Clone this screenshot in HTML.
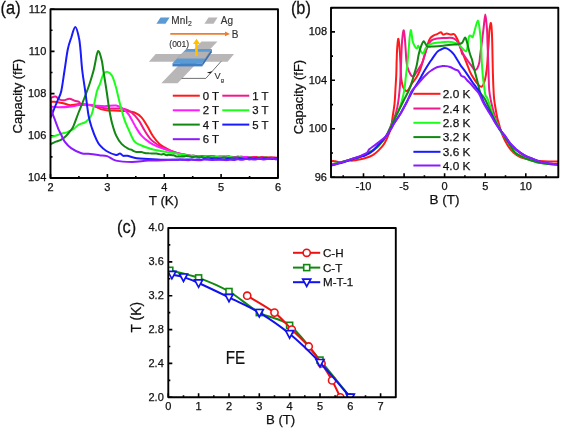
<!DOCTYPE html>
<html><head><meta charset="utf-8"><style>
html,body{margin:0;padding:0;background:#fff;}
svg{display:block;filter:blur(0.35px);}
text{font-family:"Liberation Sans",sans-serif;fill:#111;stroke:#111;stroke-width:0.25px;}
</style></head><body>
<svg width="562" height="428" viewBox="0 0 562 428">
<defs>
<clipPath id="ca"><rect x="50.5" y="9.2" width="227.5" height="168.8"/></clipPath>
<clipPath id="cb"><rect x="331.0" y="7.7" width="227.3" height="169.5"/></clipPath>
<clipPath id="cc"><rect x="168.3" y="228.0" width="227.5" height="169.3"/></clipPath>
</defs>
<rect width="562" height="428" fill="#fff"/>
<path d="M50.5 178.0v-4.0M78.9 178.0v-2.0M107.4 178.0v-4.0M135.8 178.0v-2.0M164.2 178.0v-4.0M192.7 178.0v-2.0M221.1 178.0v-4.0M249.6 178.0v-2.0M278.0 178.0v-4.0M50.5 178.0h4.0M50.5 156.9h2.0M50.5 135.8h4.0M50.5 114.7h2.0M50.5 93.6h4.0M50.5 72.5h2.0M50.5 51.4h4.0M50.5 30.3h2.0M50.5 9.2h4.0" stroke="#000" stroke-width="1.6" fill="none"/>
<g clip-path="url(#ca)">
<path d="M50.7 101.9C51.7 101.9 54.3 101.6 56.5 101.9C58.7 102.2 61.9 103.0 64.0 103.5C66.2 104.0 67.4 104.9 69.4 105.1C71.4 105.3 74.0 104.7 75.8 104.5C77.6 104.3 77.5 103.9 80.0 104.0C82.5 104.1 87.9 104.6 90.7 105.1C93.5 105.6 95.3 106.5 97.1 107.2C98.9 107.9 99.6 108.9 101.4 109.4C103.2 109.9 105.7 110.2 107.8 110.4C109.9 110.6 111.0 110.4 114.0 110.5C117.0 110.6 122.6 110.8 126.0 111.1C129.4 111.4 131.8 111.5 134.4 112.5C137.0 113.5 139.4 115.2 141.5 117.4C143.6 119.6 145.2 122.8 147.1 125.8C149.0 128.8 150.6 132.6 152.7 135.7C154.8 138.8 157.6 142.1 159.7 144.1C161.8 146.1 162.9 146.4 165.0 147.6C167.1 148.8 169.5 150.1 172.0 151.2C174.5 152.3 177.0 153.2 180.0 154.0C183.0 154.8 187.8 155.7 190.0 156.0C192.2 156.3 192.0 156.0 193.0 156.0C194.0 156.0 195.0 156.1 196.0 156.2C197.0 156.3 198.0 156.6 199.0 156.6C200.0 156.6 201.0 156.3 202.0 156.2C203.0 156.2 204.0 156.3 205.0 156.3C206.0 156.4 207.0 156.5 208.0 156.5C209.0 156.5 210.0 156.1 211.0 156.2C212.0 156.2 213.0 156.5 214.0 156.6C215.0 156.7 216.0 156.7 217.0 156.8C218.0 156.9 219.0 157.1 220.0 157.0C221.0 157.0 222.0 156.5 223.0 156.4C224.0 156.4 225.0 156.7 226.0 156.7C227.0 156.7 228.0 156.4 229.0 156.5C230.0 156.6 231.0 157.2 232.0 157.3C233.0 157.4 234.0 157.3 235.0 157.2C236.0 157.1 237.0 156.5 238.0 156.6C239.0 156.7 240.0 157.4 241.0 157.6C242.0 157.8 243.0 157.7 244.0 157.6C245.0 157.6 246.0 157.4 247.0 157.4C248.0 157.4 249.0 157.5 250.0 157.4C251.0 157.4 252.0 157.1 253.0 157.0C254.0 156.9 255.0 156.9 256.0 156.9C257.0 157.0 258.0 157.5 259.0 157.5C260.0 157.5 261.0 157.1 262.0 157.1C263.0 157.1 264.0 157.2 265.0 157.3C266.0 157.3 267.0 157.4 268.0 157.4C269.0 157.4 270.0 157.2 271.0 157.2C272.0 157.3 273.0 157.6 274.0 157.7C275.0 157.8 276.5 157.8 277.0 157.8" fill="none" stroke="#ff1a1a" stroke-width="2.0" stroke-linejoin="round" stroke-linecap="round"/>
<path d="M50.7 98.1C51.5 97.8 54.0 96.2 55.5 96.5C57.0 96.8 58.3 99.1 59.7 99.7C61.1 100.3 62.4 100.5 64.0 100.3C65.6 100.1 67.6 98.6 69.4 98.7C71.2 98.8 73.1 100.3 74.7 100.8C76.3 101.3 78.0 101.4 79.0 101.9C80.0 102.4 79.8 103.5 81.0 104.0C82.2 104.5 84.0 104.3 86.0 104.6C88.0 104.9 90.5 105.4 92.8 105.8C95.1 106.2 98.0 106.8 100.0 107.2C102.0 107.6 102.5 108.0 105.0 108.2C107.5 108.4 111.7 108.5 115.0 108.6C118.3 108.7 121.8 108.3 124.6 109.0C127.4 109.7 129.3 110.6 131.6 112.5C133.9 114.4 136.5 117.3 138.6 120.2C140.7 123.1 142.2 126.7 144.3 130.0C146.4 133.3 148.5 137.1 151.3 139.9C154.1 142.7 158.8 145.4 161.1 146.9C163.4 148.4 162.7 148.1 165.0 149.0C167.3 149.9 170.8 151.4 175.0 152.5C179.2 153.6 187.0 155.2 190.0 155.8C193.0 156.4 192.0 155.9 193.0 155.9C194.0 156.0 195.0 156.2 196.0 156.3C197.0 156.4 198.0 156.5 199.0 156.4C200.0 156.4 201.0 156.1 202.0 156.1C203.0 156.0 204.0 156.0 205.0 156.1C206.0 156.2 207.0 156.5 208.0 156.5C209.0 156.6 210.0 156.4 211.0 156.5C212.0 156.6 213.0 157.0 214.0 157.1C215.0 157.2 216.0 157.1 217.0 157.1C218.0 157.1 219.0 157.1 220.0 157.1C221.0 157.1 222.0 157.0 223.0 157.1C224.0 157.1 225.0 157.3 226.0 157.2C227.0 157.2 228.0 156.8 229.0 156.8C230.0 156.8 231.0 157.1 232.0 157.1C233.0 157.1 234.0 156.8 235.0 156.9C236.0 157.0 237.0 157.7 238.0 157.7C239.0 157.7 240.0 156.9 241.0 156.9C242.0 156.9 243.0 157.7 244.0 157.7C245.0 157.7 246.0 157.0 247.0 157.0C248.0 157.0 249.0 157.6 250.0 157.7C251.0 157.7 252.0 157.4 253.0 157.4C254.0 157.4 255.0 157.4 256.0 157.5C257.0 157.6 258.0 158.1 259.0 158.0C260.0 158.0 261.0 157.4 262.0 157.2C263.0 157.1 264.0 157.2 265.0 157.3C266.0 157.5 267.0 158.2 268.0 158.2C269.0 158.3 270.0 158.0 271.0 157.9C272.0 157.8 273.0 157.5 274.0 157.5C275.0 157.6 276.5 157.9 277.0 158.0" fill="none" stroke="#f0198c" stroke-width="2.0" stroke-linejoin="round" stroke-linecap="round"/>
<path d="M50.7 106.7C52.0 106.8 55.6 107.2 58.7 107.2C61.8 107.2 65.9 107.1 69.4 106.7C73.0 106.3 76.5 105.4 80.0 105.1C83.5 104.8 87.9 105.0 90.7 105.1C93.5 105.2 94.7 105.6 97.1 105.8C99.5 106.0 101.8 106.2 105.0 106.2C108.2 106.2 113.2 105.0 116.2 105.5C119.2 106.0 121.1 107.5 123.2 109.0C125.3 110.5 126.7 111.6 128.8 114.6C130.9 117.6 133.7 123.7 135.8 127.2C137.9 130.7 139.2 133.1 141.5 135.7C143.8 138.3 147.1 140.8 149.9 142.7C152.7 144.6 155.8 145.8 158.3 146.9C160.8 148.0 162.2 148.1 165.0 149.0C167.8 149.9 170.8 151.4 175.0 152.5C179.2 153.6 187.0 155.0 190.0 155.5C193.0 156.0 192.0 155.3 193.0 155.4C194.0 155.5 195.0 155.9 196.0 156.0C197.0 156.1 198.0 156.1 199.0 156.2C200.0 156.2 201.0 156.5 202.0 156.5C203.0 156.5 204.0 156.1 205.0 156.0C206.0 155.9 207.0 156.1 208.0 156.1C209.0 156.1 210.0 156.1 211.0 156.1C212.0 156.1 213.0 156.1 214.0 156.2C215.0 156.4 216.0 156.8 217.0 156.8C218.0 156.8 219.0 156.3 220.0 156.3C221.0 156.3 222.0 156.7 223.0 156.8C224.0 156.8 225.0 156.5 226.0 156.5C227.0 156.5 228.0 156.6 229.0 156.6C230.0 156.7 231.0 156.7 232.0 156.8C233.0 157.0 234.0 157.3 235.0 157.3C236.0 157.4 237.0 157.3 238.0 157.2C239.0 157.0 240.0 156.7 241.0 156.6C242.0 156.6 243.0 156.9 244.0 156.9C245.0 157.0 246.0 156.8 247.0 156.9C248.0 157.0 249.0 157.5 250.0 157.7C251.0 157.8 252.0 157.7 253.0 157.7C254.0 157.7 255.0 157.7 256.0 157.8C257.0 157.8 258.0 157.8 259.0 157.9C260.0 157.9 261.0 157.8 262.0 157.9C263.0 157.9 264.0 158.1 265.0 158.1C266.0 158.2 267.0 158.1 268.0 158.1C269.0 158.0 270.0 157.6 271.0 157.6C272.0 157.6 273.0 158.2 274.0 158.3C275.0 158.3 276.5 158.0 277.0 158.0" fill="none" stroke="#ff1aff" stroke-width="2.0" stroke-linejoin="round" stroke-linecap="round"/>
<path d="M50.6 137.2C51.7 136.9 55.1 135.9 57.0 135.3C58.9 134.7 60.4 133.9 62.1 133.4C63.8 132.9 65.4 132.8 67.3 132.1C69.2 131.3 71.8 130.1 73.7 128.9C75.6 127.7 76.8 125.9 78.8 124.7C80.8 123.5 83.8 123.5 85.9 121.9C88.0 120.3 90.1 118.0 91.5 114.9C92.9 111.9 93.4 107.6 94.3 103.6C95.2 99.6 96.0 94.3 97.0 91.0C98.0 87.7 98.9 86.6 100.0 83.8C101.1 81.0 102.2 76.0 103.5 74.0C104.8 72.0 106.3 71.7 107.7 71.9C109.1 72.1 110.6 73.2 111.9 75.4C113.2 77.6 114.4 81.7 115.4 85.2C116.5 88.7 117.3 92.8 118.2 96.5C119.1 100.2 119.9 103.8 121.0 107.7C122.1 111.7 123.3 116.5 124.6 120.2C125.9 123.9 127.2 126.5 128.8 130.0C130.4 133.5 132.3 138.7 134.4 141.3C136.5 143.9 138.7 144.2 141.5 145.5C144.3 146.8 147.4 147.9 151.3 149.0C155.2 150.1 160.2 150.9 165.0 151.8C169.8 152.7 175.9 153.5 180.1 154.2C184.3 154.9 187.8 155.6 190.0 155.8C192.2 156.0 192.0 155.5 193.0 155.6C194.0 155.7 195.0 156.2 196.0 156.4C197.0 156.6 198.0 156.4 199.0 156.6C200.0 156.7 201.0 157.0 202.0 157.0C203.0 157.0 204.0 156.6 205.0 156.6C206.0 156.5 207.0 156.5 208.0 156.6C209.0 156.8 210.0 157.1 211.0 157.2C212.0 157.3 213.0 157.3 214.0 157.2C215.0 157.2 216.0 156.9 217.0 157.0C218.0 157.0 219.0 157.4 220.0 157.4C221.0 157.5 222.0 157.2 223.0 157.2C224.0 157.3 225.0 157.7 226.0 157.6C227.0 157.6 228.0 157.1 229.0 157.0C230.0 157.0 231.0 157.1 232.0 157.2C233.0 157.4 234.0 157.9 235.0 157.9C236.0 158.0 237.0 157.5 238.0 157.4C239.0 157.4 240.0 157.3 241.0 157.4C242.0 157.5 243.0 157.9 244.0 158.0C245.0 158.1 246.0 158.0 247.0 157.9C248.0 157.8 249.0 157.4 250.0 157.4C251.0 157.5 252.0 157.8 253.0 157.9C254.0 158.0 255.0 158.1 256.0 158.1C257.0 158.0 258.0 157.6 259.0 157.6C260.0 157.6 261.0 158.1 262.0 158.1C263.0 158.1 264.0 157.7 265.0 157.6C266.0 157.6 267.0 157.9 268.0 157.9C269.0 157.9 270.0 157.7 271.0 157.7C272.0 157.7 273.0 157.8 274.0 157.9C275.0 157.9 276.5 158.1 277.0 158.2" fill="none" stroke="#1aff1a" stroke-width="2.0" stroke-linejoin="round" stroke-linecap="round"/>
<path d="M50.6 144.3C51.5 143.9 54.0 142.4 55.7 141.7C57.4 140.9 59.2 140.8 60.9 139.8C62.6 138.8 64.5 137.3 66.0 135.9C67.5 134.5 68.7 132.9 69.9 131.4C71.1 129.9 71.6 130.1 73.1 126.9C74.6 123.7 76.9 116.8 78.8 112.0C80.7 107.2 82.6 102.7 84.4 98.0C86.2 93.3 88.0 88.7 89.5 84.0C91.0 79.3 92.5 74.7 93.7 70.0C94.9 65.3 95.8 59.2 96.5 56.0C97.2 52.8 97.6 51.1 98.2 50.9C98.8 50.7 99.7 53.1 100.3 55.0C100.9 56.9 101.5 59.2 102.1 62.0C102.6 64.8 103.0 68.3 103.6 72.0C104.2 75.7 104.8 79.7 105.5 84.0C106.2 88.3 107.0 93.8 107.6 98.0C108.2 102.2 108.5 104.8 109.2 109.0C109.9 113.2 110.8 118.5 112.0 123.0C113.2 127.5 114.6 132.2 116.2 135.7C117.8 139.2 119.7 141.9 121.8 144.1C123.9 146.3 127.2 148.1 128.8 149.0C130.4 149.9 130.5 149.2 131.3 149.6C132.1 150.0 133.0 150.8 133.8 151.2C134.6 151.6 135.5 151.9 136.3 152.0C137.1 152.1 138.0 152.0 138.8 152.0C139.6 152.0 140.5 151.8 141.3 151.9C142.1 152.0 143.0 152.6 143.8 152.8C144.6 153.0 145.5 153.1 146.3 153.2C147.1 153.2 148.0 153.1 148.8 153.2C149.6 153.2 150.5 153.4 151.3 153.5C152.1 153.6 153.0 153.6 153.8 153.5C154.6 153.5 155.5 153.4 156.3 153.4C157.1 153.5 158.0 153.9 158.8 154.0C159.6 154.2 160.5 154.5 161.3 154.5C162.1 154.5 163.0 153.9 163.8 154.0C164.6 154.1 165.5 155.0 166.3 155.1C167.1 155.3 168.0 154.8 168.8 154.8C169.6 154.8 170.5 155.1 171.3 155.1C172.1 155.2 173.0 155.0 173.8 155.3C174.6 155.5 175.5 156.3 176.3 156.5C177.1 156.7 178.0 156.3 178.8 156.3C179.6 156.4 180.5 156.6 181.3 156.6C182.1 156.6 183.0 156.6 183.8 156.4C184.6 156.3 185.5 155.9 186.3 155.9C187.1 155.8 188.2 156.2 188.8 156.3C189.4 156.5 189.3 156.5 190.0 156.6C190.7 156.7 192.0 157.3 193.0 157.2C194.0 157.2 195.0 156.4 196.0 156.4C197.0 156.4 198.0 157.2 199.0 157.3C200.0 157.4 201.0 156.8 202.0 156.9C203.0 157.0 204.0 157.9 205.0 157.9C206.0 157.9 207.0 157.0 208.0 157.0C209.0 157.0 210.0 157.8 211.0 157.9C212.0 158.1 213.0 157.8 214.0 157.8C215.0 157.8 216.0 158.0 217.0 158.0C218.0 158.1 219.0 158.3 220.0 158.3C221.0 158.2 222.0 157.6 223.0 157.5C224.0 157.4 225.0 157.6 226.0 157.7C227.0 157.8 228.0 158.1 229.0 158.1C230.0 158.1 231.0 157.7 232.0 157.7C233.0 157.6 234.0 157.7 235.0 157.7C236.0 157.7 237.0 157.5 238.0 157.6C239.0 157.7 240.0 158.2 241.0 158.3C242.0 158.4 243.0 158.3 244.0 158.3C245.0 158.3 246.0 158.4 247.0 158.3C248.0 158.2 249.0 157.7 250.0 157.7C251.0 157.8 252.0 158.4 253.0 158.5C254.0 158.5 255.0 158.2 256.0 158.1C257.0 158.0 258.0 157.8 259.0 157.8C260.0 157.8 261.0 158.0 262.0 158.1C263.0 158.1 264.0 158.1 265.0 158.1C266.0 158.0 267.0 157.7 268.0 157.8C269.0 157.8 270.0 158.2 271.0 158.3C272.0 158.4 273.0 158.1 274.0 158.1C275.0 158.1 276.5 158.3 277.0 158.3" fill="none" stroke="#118811" stroke-width="2.0" stroke-linejoin="round" stroke-linecap="round"/>
<path d="M50.3 118.0C50.7 117.2 51.6 115.2 52.5 113.0C53.4 110.8 54.8 107.2 55.7 105.0C56.6 102.8 56.9 102.3 57.8 100.0C58.7 97.7 60.2 96.0 61.3 91.0C62.4 86.0 63.5 77.0 64.6 70.0C65.7 63.0 66.7 54.6 67.8 49.2C68.9 43.8 70.0 41.2 71.3 37.5C72.5 33.8 74.0 27.0 75.3 27.0C76.6 27.0 78.1 33.8 78.9 37.5C79.8 41.2 79.9 43.8 80.4 49.2C81.0 54.6 81.4 63.0 82.2 70.0C83.0 77.0 84.1 83.3 85.2 91.0C86.3 98.7 87.5 110.0 88.7 116.3C89.9 122.6 90.9 124.9 92.2 128.9C93.5 132.9 95.5 137.7 96.8 140.4C98.1 143.2 98.4 143.6 100.0 145.4C101.6 147.2 103.7 149.4 106.4 151.0C109.1 152.6 113.7 154.6 116.0 155.0C118.3 155.4 118.8 153.3 120.0 153.4C121.2 153.5 122.0 155.4 123.2 155.8C124.4 156.2 124.9 155.4 127.2 155.8C129.5 156.2 133.3 157.7 136.8 158.2C140.3 158.7 143.4 158.7 148.0 159.0C152.6 159.3 159.3 159.7 164.1 159.8C168.9 159.9 174.3 159.8 176.9 159.8C179.5 159.8 178.9 159.6 179.9 159.6C180.9 159.6 181.9 159.7 182.9 159.7C183.9 159.7 184.9 159.6 185.9 159.6C186.9 159.6 187.9 159.6 188.9 159.6C189.9 159.6 190.9 159.5 191.9 159.6C192.9 159.6 193.9 159.9 194.9 159.8C195.9 159.8 196.9 159.4 197.9 159.4C198.9 159.3 199.9 159.8 200.9 159.7C201.9 159.7 202.9 159.1 203.9 159.0C204.9 158.9 205.9 159.2 206.9 159.3C207.9 159.3 208.9 159.3 209.9 159.2C210.9 159.2 211.9 158.9 212.9 159.0C213.9 159.0 214.9 159.6 215.9 159.6C216.9 159.6 217.9 159.1 218.9 159.0C219.9 159.0 220.9 159.4 221.9 159.5C222.9 159.6 223.9 159.8 224.9 159.7C225.9 159.5 226.9 158.9 227.9 158.8C228.9 158.8 229.9 159.4 230.9 159.5C231.9 159.6 232.9 159.4 233.9 159.4C234.9 159.3 235.9 159.3 236.9 159.2C237.9 159.0 238.9 158.5 239.9 158.4C240.9 158.4 241.9 158.8 242.9 158.9C243.9 158.9 244.9 159.0 245.9 159.0C246.9 159.0 247.9 158.7 248.9 158.6C249.9 158.5 250.9 158.5 251.9 158.5C252.9 158.5 253.9 158.5 254.9 158.5C255.9 158.5 256.9 158.4 257.9 158.4C258.9 158.5 259.9 159.0 260.9 159.0C261.9 159.0 262.9 158.6 263.9 158.5C264.9 158.4 265.9 158.5 266.9 158.5C267.9 158.6 268.9 158.7 269.9 158.7C270.9 158.8 271.9 159.1 272.9 159.0C273.9 159.0 275.2 158.4 275.9 158.3C276.6 158.2 276.8 158.5 277.0 158.5" fill="none" stroke="#1a1aff" stroke-width="2.0" stroke-linejoin="round" stroke-linecap="round"/>
<path d="M50.6 99.0C50.7 100.3 50.7 104.7 51.0 107.0C51.3 109.3 51.7 110.7 52.2 112.6C52.8 114.5 53.6 116.3 54.3 118.2C55.0 120.1 55.7 121.9 56.4 123.8C57.1 125.7 57.8 127.7 58.5 129.4C59.2 131.1 59.9 131.9 60.9 134.0C61.9 136.1 63.0 139.3 64.7 141.7C66.4 144.0 68.3 146.2 71.1 148.1C73.9 150.0 78.2 152.3 81.4 153.3C84.6 154.3 87.4 153.6 90.4 153.9C93.4 154.2 96.6 154.8 99.4 155.2C102.2 155.6 104.3 155.2 107.1 156.1C109.9 157.0 111.8 159.6 116.0 160.6C120.2 161.6 126.7 161.9 132.0 161.9C137.3 161.9 142.7 160.9 148.0 160.6C153.3 160.3 158.8 160.5 164.1 160.3C169.4 160.1 176.8 159.6 180.0 159.5C183.2 159.4 182.0 159.5 183.0 159.6C184.0 159.7 185.0 159.9 186.0 160.0C187.0 160.1 188.0 160.2 189.0 160.2C190.0 160.1 191.0 159.6 192.0 159.6C193.0 159.6 194.0 160.0 195.0 160.1C196.0 160.2 197.0 160.2 198.0 160.2C199.0 160.2 200.0 160.2 201.0 160.2C202.0 160.1 203.0 159.7 204.0 159.6C205.0 159.5 206.0 159.4 207.0 159.5C208.0 159.5 209.0 159.7 210.0 159.8C211.0 159.9 212.0 160.2 213.0 160.1C214.0 160.1 215.0 159.7 216.0 159.6C217.0 159.6 218.0 159.8 219.0 159.8C220.0 159.8 221.0 159.6 222.0 159.6C223.0 159.7 224.0 160.0 225.0 160.1C226.0 160.2 227.0 160.2 228.0 160.1C229.0 160.0 230.0 159.5 231.0 159.5C232.0 159.5 233.0 160.1 234.0 160.0C235.0 160.0 236.0 159.1 237.0 159.0C238.0 159.0 239.0 159.6 240.0 159.7C241.0 159.8 242.0 159.9 243.0 159.7C244.0 159.6 245.0 159.0 246.0 158.9C247.0 158.9 248.0 159.4 249.0 159.4C250.0 159.5 251.0 159.2 252.0 159.2C253.0 159.3 254.0 159.7 255.0 159.6C256.0 159.5 257.0 158.9 258.0 158.8C259.0 158.7 260.0 159.0 261.0 159.1C262.0 159.2 263.0 159.4 264.0 159.4C265.0 159.4 266.0 159.3 267.0 159.1C268.0 159.0 269.0 158.9 270.0 158.8C271.0 158.7 272.0 158.4 273.0 158.5C274.0 158.6 275.3 159.3 276.0 159.4C276.7 159.4 276.8 159.0 277.0 158.9" fill="none" stroke="#8c1aff" stroke-width="2.0" stroke-linejoin="round" stroke-linecap="round"/>
</g>
<path d="M50.5 9.2H278.0V178.0H50.5Z" fill="none" stroke="#000" stroke-width="1.9" stroke-linejoin="round"/>
<path d="M172.8 95.7h27" stroke="#ff1a1a" stroke-width="2"/>
<text x="202.8" y="99.7" font-size="11.4" text-anchor="start" >0 T</text>
<path d="M222.3 95.7h27" stroke="#f0198c" stroke-width="2"/>
<text x="252.3" y="99.7" font-size="11.4" text-anchor="start" >1 T</text>
<path d="M172.8 110.3h27" stroke="#ff1aff" stroke-width="2"/>
<text x="202.8" y="114.3" font-size="11.4" text-anchor="start" >2 T</text>
<path d="M222.3 110.3h27" stroke="#1aff1a" stroke-width="2"/>
<text x="252.3" y="114.3" font-size="11.4" text-anchor="start" >3 T</text>
<path d="M172.8 124.6h27" stroke="#118811" stroke-width="2"/>
<text x="202.8" y="128.6" font-size="11.4" text-anchor="start" >4 T</text>
<path d="M222.3 124.6h27" stroke="#1a1aff" stroke-width="2"/>
<text x="252.3" y="128.6" font-size="11.4" text-anchor="start" >5 T</text>
<path d="M172.8 139.2h27" stroke="#8c1aff" stroke-width="2"/>
<text x="202.8" y="143.2" font-size="11.4" text-anchor="start" >6 T</text>
<text x="50.5" y="191.3" font-size="11.0" text-anchor="middle" >2</text>
<text x="107.4" y="191.3" font-size="11.0" text-anchor="middle" >3</text>
<text x="164.2" y="191.3" font-size="11.0" text-anchor="middle" >4</text>
<text x="221.1" y="191.3" font-size="11.0" text-anchor="middle" >5</text>
<text x="278.0" y="191.3" font-size="11.0" text-anchor="middle" >6</text>
<text x="46.3" y="181.4" font-size="11.0" text-anchor="end" >104</text>
<text x="46.3" y="139.2" font-size="11.0" text-anchor="end" >106</text>
<text x="46.3" y="97.0" font-size="11.0" text-anchor="end" >108</text>
<text x="46.3" y="54.8" font-size="11.0" text-anchor="end" >110</text>
<text x="46.3" y="12.6" font-size="11.0" text-anchor="end" >112</text>
<text x="163.5" y="204.5" font-size="13.5" text-anchor="middle" >T (K)</text>
<text transform="translate(22.3 96.2) rotate(-90)" font-size="13" text-anchor="middle">Capacity (fF)</text>
<text transform="translate(0.6 14.0) scale(0.95 1.05)" font-size="17.2">(a)</text>
<g>
<polygon points="160.5,17.4 169.6,17.4 165.5,23.7 156.4,23.7" fill="#5b9bd5"/>
<polygon points="208.5,17.4 217.6,17.4 213.5,23.7 204.4,23.7" fill="#b8b6b6"/>
<text x="171.3" y="24.0" font-size="10.0" text-anchor="start" style="fill:#333;stroke:#333;stroke-width:0.15px">MnI<tspan font-size="6.8" dy="2">2</tspan></text>
<text x="220.8" y="24.0" font-size="10.0" text-anchor="start" style="fill:#333;stroke:#333;stroke-width:0.15px">Ag</text>
<path d="M170.3 33.9H226" stroke="#ed7d31" stroke-width="1.6"/>
<polygon points="225,31.6 230,33.9 225,36.2" fill="#ed7d31"/>
<text x="231.8" y="37.5" font-size="10.0" text-anchor="start" style="fill:#333;stroke:#333;stroke-width:0.15px">B</text>
<text x="169.3" y="46.8" font-size="8.5" text-anchor="start" style="fill:#333;stroke:#333;stroke-width:0.15px">(001)</text>
<polygon points="201.5,41.4 217.5,41.4 177.6,83.2 161.3,83.2" fill="#b8b6b6"/>
<polygon points="155.7,54.1 234.0,54.1 227.6,61.7 148.9,61.7" fill="#b8b6b6"/>
<polygon points="186.2,49.1 211.8,49.1 202.2,63.3 172.5,63.3" fill="#5b9bd5"/>
<polygon points="172.5,63.3 202.2,63.3 202.2,66.4 172.5,66.4" fill="#3f7fc6"/>
<polygon points="202.2,63.3 211.8,49.1 211.8,52.2 202.2,66.4" fill="#3a70ae"/>
<polygon points="183.7,51.7 210.0,51.7 205.4,58.5 177.1,58.5" fill="#b3b1b1"/>
<path d="M205.4 58.5L210 51.7" stroke="#807e7e" stroke-width="0.6"/>
<path d="M196.5 56V43" stroke="#ffc000" stroke-width="2.6"/>
<polygon points="193,44 196.5,38.8 200,44" fill="#ffc000"/>
<path d="M221.2 61.3L205.8 78.4H181.7" fill="none" stroke="#333" stroke-width="0.7"/>
<path d="M206.8 72.4L212.4 71.3 210.2 73.6z" fill="#111"/>
<text x="214.6" y="79.4" font-size="9.2" text-anchor="start" style="fill:#333;stroke:#333;stroke-width:0.15px">V<tspan font-size="5.8" dy="3">g</tspan></text>
</g>
<path d="M343.2 177.2v-2.0M363.5 177.2v-4.0M383.8 177.2v-2.0M404.1 177.2v-4.0M424.4 177.2v-2.0M444.6 177.2v-4.0M464.9 177.2v-2.0M485.2 177.2v-4.0M505.5 177.2v-2.0M525.8 177.2v-4.0M546.1 177.2v-2.0M331.0 177.2h4.0M331.0 153.0h2.0M331.0 128.8h4.0M331.0 104.6h2.0M331.0 80.3h4.0M331.0 56.1h2.0M331.0 31.9h4.0M331.0 7.7h2.0" stroke="#000" stroke-width="1.6" fill="none"/>
<g clip-path="url(#cb)">
<path d="M331.0 161.4C331.4 161.3 332.5 160.8 333.5 160.9C334.5 161.0 335.6 161.6 337.0 161.8C338.4 162.0 339.9 162.2 341.6 162.0C343.3 161.8 345.4 160.8 347.3 160.6C349.2 160.4 351.2 160.8 353.1 160.6C355.1 160.4 357.1 160.0 359.0 159.6C360.9 159.2 362.4 159.1 364.7 158.3C367.0 157.6 370.5 156.4 372.8 155.1C375.1 153.8 376.7 152.3 378.6 150.4C380.5 148.5 382.6 146.4 384.4 143.5C386.2 140.6 388.1 136.1 389.3 133.0C390.5 129.9 390.9 127.7 391.5 125.0C392.1 122.3 392.1 120.6 392.6 117.1C393.1 113.6 394.0 108.5 394.5 104.0C395.0 99.5 395.1 95.0 395.4 90.0C395.7 85.0 396.1 78.7 396.3 74.0C396.5 69.3 396.5 66.3 396.6 62.0C396.8 57.7 396.9 51.9 397.2 48.0C397.5 44.1 397.9 39.6 398.2 38.9C398.5 38.2 398.9 41.8 399.2 44.0C399.5 46.2 399.7 49.0 399.9 52.0C400.1 55.0 400.2 58.7 400.4 62.0C400.5 65.3 400.6 69.0 400.8 72.0C401.0 75.0 401.0 77.5 401.4 80.0C401.8 82.5 402.4 85.3 403.1 87.1C403.9 88.9 405.0 90.3 405.9 90.8C406.8 91.3 407.3 91.0 408.2 89.9C409.1 88.8 410.2 86.3 411.5 84.3C412.8 82.3 414.8 80.1 416.2 77.8C417.6 75.5 418.7 73.3 419.9 70.3C421.1 67.3 422.1 63.7 423.2 60.0C424.3 56.3 425.6 51.4 426.6 48.0C427.7 44.6 428.4 41.5 429.5 39.4C430.6 37.3 432.1 36.5 433.4 35.6C434.7 34.7 435.9 34.7 437.2 34.1C438.5 33.5 440.0 32.1 441.0 32.2C442.0 32.3 442.0 34.4 443.0 34.6C444.0 34.8 445.5 33.6 446.8 33.6C448.1 33.6 449.5 34.5 450.7 34.6C451.9 34.7 453.1 33.8 454.0 34.1C454.9 34.4 455.2 35.3 455.9 36.5C456.6 37.7 457.6 39.5 458.3 41.3C459.0 43.1 459.7 45.0 460.3 47.1C460.9 49.2 461.7 52.5 462.2 53.8C462.7 55.1 462.6 53.2 463.4 55.0C464.2 56.8 466.0 61.5 467.1 64.3C468.2 67.1 468.9 69.4 470.0 71.8C471.1 74.2 472.3 76.2 473.7 78.4C475.1 80.6 477.1 83.5 478.4 84.9C479.7 86.3 480.7 87.1 481.6 86.8C482.5 86.5 483.3 84.9 484.0 83.0C484.7 81.1 485.3 78.7 485.8 75.6C486.3 72.5 486.9 68.1 487.2 64.3C487.5 60.5 487.7 56.5 487.9 53.0C488.1 49.5 488.4 47.3 488.6 43.6C488.9 39.9 489.0 34.1 489.4 30.7C489.8 27.3 490.3 23.4 490.7 23.0C491.1 22.6 491.4 25.5 491.6 28.0C491.8 30.5 492.0 34.3 492.1 38.0C492.2 41.7 492.3 44.0 492.4 50.0C492.5 56.0 492.7 66.2 492.9 73.7C493.1 81.2 493.5 90.0 493.8 95.0C494.1 100.0 494.2 100.3 494.8 104.0C495.4 107.7 496.4 113.8 497.1 117.1C497.8 120.4 498.2 121.2 499.0 124.0C499.8 126.8 500.5 130.4 502.0 134.0C503.5 137.6 505.9 142.6 507.9 145.7C509.8 148.8 511.6 150.8 513.7 152.7C515.8 154.6 518.0 156.2 520.7 157.4C523.4 158.6 527.0 159.1 530.1 159.7C533.2 160.3 536.3 160.6 539.4 160.9C542.5 161.2 545.6 161.4 548.8 161.5C552.0 161.6 556.9 161.5 558.5 161.5" fill="none" stroke="#ff1a1a" stroke-width="2.0" stroke-linejoin="round" stroke-linecap="round"/>
<path d="M331.0 164.5C332.0 164.3 334.7 163.8 337.0 163.2C339.3 162.6 342.3 161.9 345.0 161.2C347.7 160.5 350.4 159.6 353.1 158.8C355.8 158.0 358.5 157.6 361.2 156.6C363.9 155.6 367.2 153.9 369.3 152.8C371.4 151.7 372.4 151.0 374.0 149.8C375.6 148.6 376.7 147.8 378.6 145.8C380.5 143.8 383.8 140.4 385.5 137.8C387.2 135.2 387.9 133.0 389.0 130.5C390.1 128.0 391.0 125.5 392.1 122.7C393.2 119.9 394.9 116.8 395.9 113.4C396.9 110.0 397.6 106.0 398.2 102.1C398.8 98.2 399.2 94.3 399.6 90.0C400.0 85.7 400.3 80.2 400.5 76.0C400.7 71.8 400.8 69.0 401.0 65.0C401.2 61.0 401.3 56.0 401.5 52.0C401.7 48.0 401.8 44.6 402.1 41.0C402.4 37.4 403.1 31.5 403.5 30.5C403.9 29.5 404.2 32.9 404.5 35.0C404.8 37.1 405.0 40.3 405.2 43.1C405.4 45.9 405.6 49.2 405.8 52.0C406.0 54.8 406.1 57.6 406.3 60.0C406.6 62.4 406.9 64.6 407.3 66.5C407.8 68.4 408.3 70.0 409.0 71.5C409.7 73.0 410.7 75.0 411.5 75.8C412.3 76.6 412.9 77.0 413.8 76.2C414.7 75.4 415.8 73.3 417.1 71.2C418.4 69.1 420.6 66.1 421.8 63.7C423.0 61.3 423.2 59.9 424.2 57.0C425.2 54.1 426.4 48.9 427.6 46.1C428.8 43.3 429.8 41.7 431.4 40.4C433.0 39.1 434.9 38.8 437.2 38.4C439.4 38.0 442.3 38.1 444.9 38.0C447.5 37.9 450.7 37.6 452.6 38.0C454.5 38.4 455.3 39.2 456.4 40.4C457.5 41.6 458.2 43.0 459.3 45.2C460.4 47.4 462.2 52.0 463.1 53.8C464.0 55.6 463.5 54.5 464.5 56.0C465.5 57.5 467.8 60.8 469.0 62.5C470.2 64.2 471.1 65.2 472.0 66.5C472.9 67.8 473.7 69.7 474.6 70.0C475.5 70.3 476.6 69.3 477.4 68.1C478.2 66.8 478.8 64.7 479.3 62.5C479.8 60.3 479.8 58.1 480.2 55.0C480.6 51.9 481.1 48.1 481.7 43.6C482.3 39.1 483.0 32.9 483.6 28.1C484.2 23.3 484.8 14.6 485.3 14.6C485.9 14.6 486.5 23.3 486.9 28.1C487.3 32.9 487.3 38.6 487.5 43.6C487.7 48.6 487.9 53.0 488.1 58.0C488.3 63.0 488.4 68.4 488.6 73.7C488.8 79.0 488.8 85.4 489.2 90.0C489.6 94.6 490.1 97.2 491.0 101.2C491.9 105.2 493.1 110.4 494.3 114.3C495.5 118.2 496.9 121.8 498.0 124.6C499.1 127.4 499.9 129.1 501.0 131.0C502.1 132.9 502.9 133.8 504.4 136.0C505.9 138.2 508.3 142.0 510.2 144.3C512.1 146.6 513.7 148.1 516.0 150.0C518.3 151.9 521.5 154.4 524.2 156.0C526.9 157.6 529.5 158.2 532.4 159.3C535.3 160.4 538.7 161.5 541.8 162.3C544.9 163.1 548.3 163.6 551.1 164.0C553.9 164.4 557.3 164.4 558.5 164.5" fill="none" stroke="#f0198c" stroke-width="2.0" stroke-linejoin="round" stroke-linecap="round"/>
<path d="M331.0 164.2C332.0 164.0 334.7 163.7 337.0 163.2C339.3 162.7 342.3 162.0 345.0 161.3C347.7 160.6 350.4 159.6 353.1 158.8C355.8 158.0 358.5 157.4 361.2 156.3C363.9 155.2 367.2 153.6 369.3 152.5C371.4 151.4 372.4 150.7 374.0 149.5C375.6 148.3 376.7 147.6 378.6 145.5C380.5 143.4 383.7 139.9 385.5 137.2C387.3 134.5 388.2 132.1 389.5 129.5C390.8 126.9 391.7 124.6 393.1 121.8C394.5 119.0 396.4 115.7 397.8 112.4C399.2 109.1 400.4 105.8 401.5 102.1C402.6 98.4 403.6 94.3 404.3 90.0C405.0 85.7 405.4 80.2 405.9 76.0C406.4 71.8 406.8 70.0 407.3 65.0C407.8 60.0 408.5 51.1 408.9 46.3C409.3 41.5 409.5 38.7 409.8 36.0C410.1 33.3 410.5 30.2 410.8 30.0C411.1 29.8 411.5 33.2 411.8 35.0C412.1 36.8 412.1 39.1 412.6 41.0C413.1 42.9 414.0 45.1 414.7 46.3C415.4 47.5 416.2 48.5 416.8 48.4C417.4 48.3 417.8 45.4 418.4 45.8C419.0 46.1 419.8 49.2 420.5 50.5C421.2 51.8 422.1 53.0 422.6 53.4C423.1 53.8 423.1 53.8 423.6 52.9C424.1 52.0 424.9 49.4 425.7 48.1C426.5 46.8 427.3 46.0 428.6 45.2C429.9 44.4 431.3 43.8 433.4 43.3C435.5 42.8 438.4 42.5 441.0 42.3C443.6 42.0 446.4 41.7 448.7 41.8C450.9 41.9 452.9 42.4 454.5 42.8C456.1 43.2 457.0 43.3 458.3 44.2C459.6 45.1 461.1 47.0 462.2 48.1C463.3 49.2 464.3 50.7 465.1 50.9C465.9 51.1 466.4 51.8 467.0 49.5C467.6 47.2 468.3 39.4 468.9 37.1C469.5 34.8 470.2 35.8 470.8 35.8C471.4 35.8 472.1 38.0 472.7 37.1C473.3 36.2 473.7 33.5 474.6 30.7C475.5 27.9 477.0 20.4 477.9 20.4C478.8 20.4 479.3 26.8 479.8 30.7C480.3 34.6 480.8 38.7 481.1 43.6C481.4 48.5 481.4 55.0 481.7 60.0C481.9 65.0 482.2 69.4 482.6 73.7C483.0 78.0 483.5 82.2 484.0 85.8C484.5 89.3 484.8 92.8 485.4 95.0C486.0 97.2 486.6 96.2 487.8 99.3C489.0 102.4 491.2 110.1 492.4 113.4C493.6 116.7 494.1 117.0 495.0 119.0C495.9 121.0 497.2 123.7 498.0 125.5C498.8 127.3 498.6 128.2 499.7 130.0C500.8 131.8 502.6 133.9 504.4 136.5C506.1 139.1 508.4 142.8 510.2 145.5C511.9 148.2 512.6 150.4 514.9 152.5C517.2 154.6 521.3 156.4 524.2 157.8C527.1 159.2 529.9 160.0 532.4 160.8C534.9 161.6 536.3 162.2 539.4 162.8C542.5 163.4 547.9 164.0 551.1 164.3C554.3 164.6 557.3 164.6 558.5 164.6" fill="none" stroke="#1aff1a" stroke-width="2.0" stroke-linejoin="round" stroke-linecap="round"/>
<path d="M331.0 164.8C332.0 164.6 334.7 164.1 337.0 163.5C339.3 162.9 342.3 162.1 345.0 161.3C347.7 160.5 350.4 159.6 353.1 158.8C355.8 158.0 358.5 157.4 361.2 156.3C363.9 155.2 367.2 153.4 369.3 152.3C371.4 151.2 372.4 150.6 374.0 149.5C375.6 148.4 376.7 147.6 378.6 145.5C380.5 143.4 383.7 139.7 385.5 137.0C387.3 134.3 388.1 132.3 389.5 129.5C390.9 126.7 392.5 123.1 394.0 119.9C395.5 116.8 397.0 114.0 398.7 110.6C400.4 107.2 402.6 102.7 404.3 99.3C406.0 95.9 407.7 93.0 409.0 90.0C410.3 87.0 411.3 83.8 412.2 81.0C413.1 78.2 413.7 75.7 414.5 73.0C415.3 70.3 416.1 68.2 416.8 65.0C417.5 61.8 418.1 56.9 418.9 53.6C419.7 50.3 420.7 47.2 421.5 45.2C422.3 43.2 423.0 41.5 423.7 41.3C424.4 41.1 425.0 43.3 425.7 44.2C426.4 45.1 426.7 46.2 427.6 46.6C428.6 47.0 429.2 46.7 431.4 46.6C433.6 46.5 437.8 46.4 441.0 46.1C444.2 45.8 447.8 45.0 450.7 44.7C453.6 44.4 456.4 44.5 458.3 44.2C460.2 43.9 461.1 43.9 462.2 42.8C463.3 41.7 464.3 37.6 465.1 37.5C465.9 37.4 466.2 39.6 467.0 42.3C467.8 45.0 469.0 50.8 469.9 53.8C470.8 56.8 471.5 57.8 472.1 60.0C472.7 62.2 472.8 63.6 473.7 67.1C474.6 70.6 476.3 77.0 477.4 81.2C478.5 85.4 478.9 89.4 480.2 92.4C481.5 95.4 483.1 95.8 485.0 99.3C486.9 102.8 489.5 109.2 491.5 113.4C493.5 117.6 495.0 120.8 497.1 124.6C499.2 128.4 502.2 133.0 504.4 136.5C506.6 140.0 508.4 142.8 510.2 145.5C511.9 148.2 512.6 150.4 514.9 152.5C517.2 154.6 521.3 156.4 524.2 157.8C527.1 159.2 529.9 160.0 532.4 160.8C534.9 161.6 536.3 162.2 539.4 162.8C542.5 163.4 547.9 164.0 551.1 164.3C554.3 164.6 557.3 164.6 558.5 164.6" fill="none" stroke="#118811" stroke-width="2.0" stroke-linejoin="round" stroke-linecap="round"/>
<path d="M331.0 165.6C332.0 165.3 334.6 164.6 336.9 164.0C339.2 163.4 342.3 162.6 345.0 161.8C347.7 161.0 350.4 159.9 353.1 159.0C355.8 158.1 359.3 157.0 361.2 156.4C363.1 155.8 363.0 156.4 364.7 155.6C366.4 154.8 369.3 153.7 371.6 151.8C373.9 150.0 376.3 147.0 378.6 144.5C380.9 142.0 383.6 139.4 385.5 137.0C387.4 134.6 388.9 132.2 390.3 130.0C391.7 127.8 392.3 126.4 394.0 123.6C395.7 120.8 398.4 117.1 400.6 113.4C402.8 109.7 405.5 104.3 407.1 101.2C408.8 98.1 409.4 97.1 410.5 95.0C411.6 92.9 412.8 90.5 414.0 88.5C415.2 86.5 416.2 85.1 417.5 83.0C418.8 80.9 420.4 78.2 421.6 76.0C422.8 73.8 423.5 72.3 424.9 70.0C426.3 67.7 428.8 63.7 429.9 62.0C431.0 60.3 430.2 61.7 431.4 60.0C432.6 58.3 435.6 53.6 437.2 51.9C438.8 50.1 439.7 50.1 441.0 49.5C442.3 48.9 443.6 48.1 444.9 48.1C446.2 48.1 447.3 48.5 448.7 49.5C450.1 50.5 452.1 52.0 453.5 53.8C454.9 55.5 456.2 58.1 457.4 60.0C458.6 61.9 459.1 63.2 460.6 65.3C462.1 67.4 464.3 70.1 466.2 72.8C468.1 75.5 470.1 78.7 471.8 81.2C473.5 83.7 475.1 85.7 476.5 87.7C477.9 89.7 478.9 90.8 480.2 93.3C481.4 95.8 482.0 98.5 484.0 102.5C486.0 106.5 490.6 113.7 492.4 117.0C494.2 120.3 493.8 120.2 495.0 122.3C496.2 124.4 498.1 127.2 499.7 129.4C501.3 131.6 502.6 132.9 504.4 135.2C506.1 137.5 508.3 141.1 510.2 143.4C512.1 145.7 513.7 147.2 516.0 149.2C518.3 151.1 521.5 153.5 524.2 155.1C526.9 156.7 529.5 157.4 532.4 158.6C535.3 159.8 538.7 161.2 541.8 162.1C544.9 163.0 548.3 163.4 551.1 163.8C553.9 164.2 557.3 164.3 558.5 164.4" fill="none" stroke="#1a1aff" stroke-width="2.0" stroke-linejoin="round" stroke-linecap="round"/>
<path d="M331.0 165.3C332.0 165.0 334.6 164.3 336.9 163.7C339.2 163.0 342.3 162.3 345.0 161.4C347.7 160.5 350.4 159.5 353.1 158.5C355.8 157.5 358.9 156.5 361.2 155.6C363.5 154.7 365.6 153.9 367.0 152.8C368.4 151.8 368.1 150.5 369.3 149.3C370.5 148.1 372.4 147.0 374.0 145.8C375.6 144.6 376.7 143.8 378.6 142.3C380.5 140.8 383.6 138.7 385.5 136.6C387.4 134.5 388.9 132.2 390.3 130.0C391.7 127.8 392.3 126.4 394.0 123.6C395.7 120.8 398.5 116.8 400.6 113.4C402.7 110.0 405.0 105.7 406.4 103.0C407.8 100.3 408.1 99.0 409.0 97.0C409.9 95.0 410.3 93.1 411.7 91.0C413.1 88.9 415.6 86.5 417.5 84.3C419.4 82.0 421.8 79.3 423.4 77.5C425.0 75.7 426.1 74.7 427.4 73.5C428.7 72.3 429.7 71.5 431.3 70.5C432.9 69.5 435.0 67.9 436.9 67.2C438.8 66.5 441.1 66.3 442.5 66.1C443.9 65.9 443.8 65.9 445.0 66.1C446.2 66.2 448.3 66.4 450.0 67.0C451.7 67.6 453.7 68.9 455.0 69.5C456.3 70.1 456.9 69.7 457.8 70.4C458.7 71.1 459.5 72.8 460.1 73.7C460.7 74.6 460.8 75.5 461.5 76.0C462.2 76.5 463.4 76.3 464.3 77.0C465.2 77.7 466.0 79.0 467.1 80.2C468.2 81.4 469.5 82.4 470.9 84.0C472.3 85.6 474.2 87.9 475.6 89.6C477.0 91.3 477.9 91.9 479.3 94.3C480.7 96.7 481.8 100.0 484.0 104.0C486.2 108.0 490.6 115.0 492.4 118.0C494.2 121.0 493.8 120.4 495.0 122.3C496.2 124.2 498.1 127.2 499.7 129.4C501.3 131.6 502.6 132.9 504.4 135.2C506.1 137.5 508.3 141.1 510.2 143.4C512.1 145.7 513.7 147.2 516.0 149.2C518.3 151.1 521.5 153.5 524.2 155.1C526.9 156.7 529.5 157.4 532.4 158.6C535.3 159.8 538.7 161.2 541.8 162.1C544.9 163.0 548.3 163.4 551.1 163.8C553.9 164.2 557.3 164.3 558.5 164.4" fill="none" stroke="#8c1aff" stroke-width="2.0" stroke-linejoin="round" stroke-linecap="round"/>
</g>
<path d="M331.0 7.7H558.3V177.2H331.0Z" fill="none" stroke="#000" stroke-width="1.9" stroke-linejoin="round"/>
<path d="M413.4 93.8H440.5" stroke="#ff1a1a" stroke-width="2"/>
<text x="442.8" y="98.0" font-size="11.8" text-anchor="start" >2.0 K</text>
<path d="M413.4 108.5H440.5" stroke="#f0198c" stroke-width="2"/>
<text x="442.8" y="112.7" font-size="11.8" text-anchor="start" >2.4 K</text>
<path d="M413.4 122.8H440.5" stroke="#1aff1a" stroke-width="2"/>
<text x="442.8" y="127.0" font-size="11.8" text-anchor="start" >2.8 K</text>
<path d="M413.4 137.1H440.5" stroke="#118811" stroke-width="2"/>
<text x="442.8" y="141.3" font-size="11.8" text-anchor="start" >3.2 K</text>
<path d="M413.4 151.8H440.5" stroke="#1a1aff" stroke-width="2"/>
<text x="442.8" y="156.0" font-size="11.8" text-anchor="start" >3.6 K</text>
<path d="M413.4 165.5H440.5" stroke="#8c1aff" stroke-width="2"/>
<text x="442.8" y="169.7" font-size="11.8" text-anchor="start" >4.0 K</text>
<text x="363.5" y="190.3" font-size="11.0" text-anchor="middle" >-10</text>
<text x="404.1" y="190.3" font-size="11.0" text-anchor="middle" >-5</text>
<text x="444.6" y="190.3" font-size="11.0" text-anchor="middle" >0</text>
<text x="485.2" y="190.3" font-size="11.0" text-anchor="middle" >5</text>
<text x="525.8" y="190.3" font-size="11.0" text-anchor="middle" >10</text>
<text x="327.0" y="180.6" font-size="11.0" text-anchor="end" >96</text>
<text x="327.0" y="132.2" font-size="11.0" text-anchor="end" >100</text>
<text x="327.0" y="83.7" font-size="11.0" text-anchor="end" >104</text>
<text x="327.0" y="35.3" font-size="11.0" text-anchor="end" >108</text>
<text x="444.6" y="203.8" font-size="13.5" text-anchor="middle" >B (T)</text>
<text transform="translate(303.2 97) rotate(-90)" font-size="13" text-anchor="middle">Capacity (fF)</text>
<text transform="translate(290.9 13.9) scale(0.95 1.05)" font-size="17.2">(b)</text>
<path d="M168.3 397.3v-4.0M183.5 397.3v-2.0M198.6 397.3v-4.0M213.8 397.3v-2.0M229.0 397.3v-4.0M244.1 397.3v-2.0M259.3 397.3v-4.0M274.5 397.3v-2.0M289.6 397.3v-4.0M304.8 397.3v-2.0M320.0 397.3v-4.0M335.1 397.3v-2.0M350.3 397.3v-4.0M365.5 397.3v-2.0M380.6 397.3v-4.0M168.3 397.3h4.0M168.3 380.4h2.0M168.3 363.4h4.0M168.3 346.5h2.0M168.3 329.6h4.0M168.3 312.6h2.0M168.3 295.7h4.0M168.3 278.8h2.0M168.3 261.9h4.0M168.3 244.9h2.0" stroke="#000" stroke-width="1.6" fill="none"/>
<g clip-path="url(#cc)">
<path d="M169.8 270.3C174.6 271.6 188.8 274.4 198.6 277.9C208.5 281.5 218.9 285.7 229.0 291.5C239.1 297.3 249.2 307.0 259.3 312.6C269.4 318.3 279.5 317.4 289.6 325.3C299.7 333.2 309.9 348.1 320.0 360.1C330.1 372.0 345.2 391.1 350.3 397.3" fill="none" stroke="#118811" stroke-width="2.0" stroke-linejoin="round" stroke-linecap="round"/>
<rect x="166.8" y="267.3" width="6.0" height="6.0" fill="#fff" stroke="#118811" stroke-width="1.6"/>
<rect x="195.6" y="274.9" width="6.0" height="6.0" fill="#fff" stroke="#118811" stroke-width="1.6"/>
<rect x="226.0" y="288.5" width="6.0" height="6.0" fill="#fff" stroke="#118811" stroke-width="1.6"/>
<rect x="256.3" y="309.6" width="6.0" height="6.0" fill="#fff" stroke="#118811" stroke-width="1.6"/>
<rect x="286.6" y="322.3" width="6.0" height="6.0" fill="#fff" stroke="#118811" stroke-width="1.6"/>
<rect x="317.0" y="357.1" width="6.0" height="6.0" fill="#fff" stroke="#118811" stroke-width="1.6"/>
<rect x="347.3" y="394.3" width="6.0" height="6.0" fill="#fff" stroke="#118811" stroke-width="1.6"/>
<path d="M247.2 295.7C251.7 298.5 267.0 307.0 274.5 312.6C281.9 318.3 286.0 323.9 291.8 329.6C297.5 335.2 303.8 340.9 308.7 346.5C313.7 352.2 317.6 357.8 321.5 363.4C325.4 369.1 329.0 374.7 332.1 380.4C335.2 386.0 338.9 394.5 340.3 397.3" fill="none" stroke="#ee1111" stroke-width="2.0" stroke-linejoin="round" stroke-linecap="round"/>
<circle cx="247.2" cy="295.7" r="3.6" fill="#fff" stroke="#ee1111" stroke-width="1.6"/>
<circle cx="274.5" cy="312.6" r="3.6" fill="#fff" stroke="#ee1111" stroke-width="1.6"/>
<circle cx="291.8" cy="329.6" r="3.6" fill="#fff" stroke="#ee1111" stroke-width="1.6"/>
<circle cx="308.7" cy="346.5" r="3.6" fill="#fff" stroke="#ee1111" stroke-width="1.6"/>
<circle cx="321.5" cy="363.4" r="3.6" fill="#fff" stroke="#ee1111" stroke-width="1.6"/>
<circle cx="332.1" cy="380.4" r="3.6" fill="#fff" stroke="#ee1111" stroke-width="1.6"/>
<circle cx="340.3" cy="397.3" r="3.6" fill="#fff" stroke="#ee1111" stroke-width="1.6"/>
<path d="M171.9 274.6C173.9 275.0 179.0 275.7 183.5 277.1C187.9 278.5 191.1 279.6 198.6 283.0C206.2 286.4 218.9 292.5 229.0 297.4C239.1 302.4 249.2 306.6 259.3 312.6C269.4 318.7 279.5 325.5 289.6 333.8C299.7 342.1 309.9 352.0 320.0 362.6C330.1 373.2 345.2 391.5 350.3 397.3" fill="none" stroke="#1111ee" stroke-width="2.0" stroke-linejoin="round" stroke-linecap="round"/>
<polygon points="167.9,271.4 175.9,271.4 171.9,278.8" fill="#fff" stroke="#1111ee" stroke-width="1.7" stroke-linejoin="miter"/>
<polygon points="179.5,274.0 187.5,274.0 183.5,281.4" fill="#fff" stroke="#1111ee" stroke-width="1.7" stroke-linejoin="miter"/>
<polygon points="194.6,279.9 202.6,279.9 198.6,287.3" fill="#fff" stroke="#1111ee" stroke-width="1.7" stroke-linejoin="miter"/>
<polygon points="225.0,294.3 233.0,294.3 229.0,301.7" fill="#fff" stroke="#1111ee" stroke-width="1.7" stroke-linejoin="miter"/>
<polygon points="255.3,309.5 263.3,309.5 259.3,316.9" fill="#fff" stroke="#1111ee" stroke-width="1.7" stroke-linejoin="miter"/>
<polygon points="285.6,330.7 293.6,330.7 289.6,338.1" fill="#fff" stroke="#1111ee" stroke-width="1.7" stroke-linejoin="miter"/>
<polygon points="316.0,359.5 324.0,359.5 320.0,366.9" fill="#fff" stroke="#1111ee" stroke-width="1.7" stroke-linejoin="miter"/>
<polygon points="346.3,394.2 354.3,394.2 350.3,401.6" fill="#fff" stroke="#1111ee" stroke-width="1.7" stroke-linejoin="miter"/>
</g>
<path d="M168.3 228.0H395.8V397.3H168.3Z" fill="none" stroke="#000" stroke-width="1.9" stroke-linejoin="round"/>
<path d="M293 252.8H320.2" stroke="#ee1111" stroke-width="2"/>
<circle cx="306.7" cy="252.8" r="3.6" fill="#fff" stroke="#ee1111" stroke-width="1.6"/>
<text x="323.0" y="256.9" font-size="11.6" text-anchor="start" >C-H</text>
<path d="M293 267.6H320.2" stroke="#118811" stroke-width="2"/>
<rect x="303.7" y="264.6" width="6.0" height="6.0" fill="#fff" stroke="#118811" stroke-width="1.6"/>
<text x="323.0" y="271.7" font-size="11.6" text-anchor="start" >C-T</text>
<path d="M293 282.2H320.2" stroke="#1111ee" stroke-width="2"/>
<polygon points="302.7,279.1 310.7,279.1 306.7,286.5" fill="#fff" stroke="#1111ee" stroke-width="1.7" stroke-linejoin="miter"/>
<text x="323.0" y="286.3" font-size="11.6" text-anchor="start" >M-T-1</text>
<text x="168.3" y="410.0" font-size="11.0" text-anchor="middle" >0</text>
<text x="198.6" y="410.0" font-size="11.0" text-anchor="middle" >1</text>
<text x="229.0" y="410.0" font-size="11.0" text-anchor="middle" >2</text>
<text x="259.3" y="410.0" font-size="11.0" text-anchor="middle" >3</text>
<text x="289.6" y="410.0" font-size="11.0" text-anchor="middle" >4</text>
<text x="320.0" y="410.0" font-size="11.0" text-anchor="middle" >5</text>
<text x="350.3" y="410.0" font-size="11.0" text-anchor="middle" >6</text>
<text x="380.6" y="410.0" font-size="11.0" text-anchor="middle" >7</text>
<text x="163.8" y="400.5" font-size="11.0" text-anchor="end" >2.0</text>
<text x="163.8" y="366.6" font-size="11.0" text-anchor="end" >2.4</text>
<text x="163.8" y="332.8" font-size="11.0" text-anchor="end" >2.8</text>
<text x="163.8" y="298.9" font-size="11.0" text-anchor="end" >3.2</text>
<text x="163.8" y="265.1" font-size="11.0" text-anchor="end" >3.6</text>
<text x="163.8" y="231.2" font-size="11.0" text-anchor="end" >4.0</text>
<text x="280.6" y="423.8" font-size="13.2" text-anchor="middle" >B (T)</text>
<text transform="translate(140.8 317.2) rotate(-90)" font-size="13.8" text-anchor="middle">T (K)</text>
<text transform="translate(225.8 363.8) scale(0.85 1)" font-size="17.8">FE</text>
<text transform="translate(117.1 233.1) scale(0.95 1.05)" font-size="17.2">(c)</text>
</svg>
</body></html>
